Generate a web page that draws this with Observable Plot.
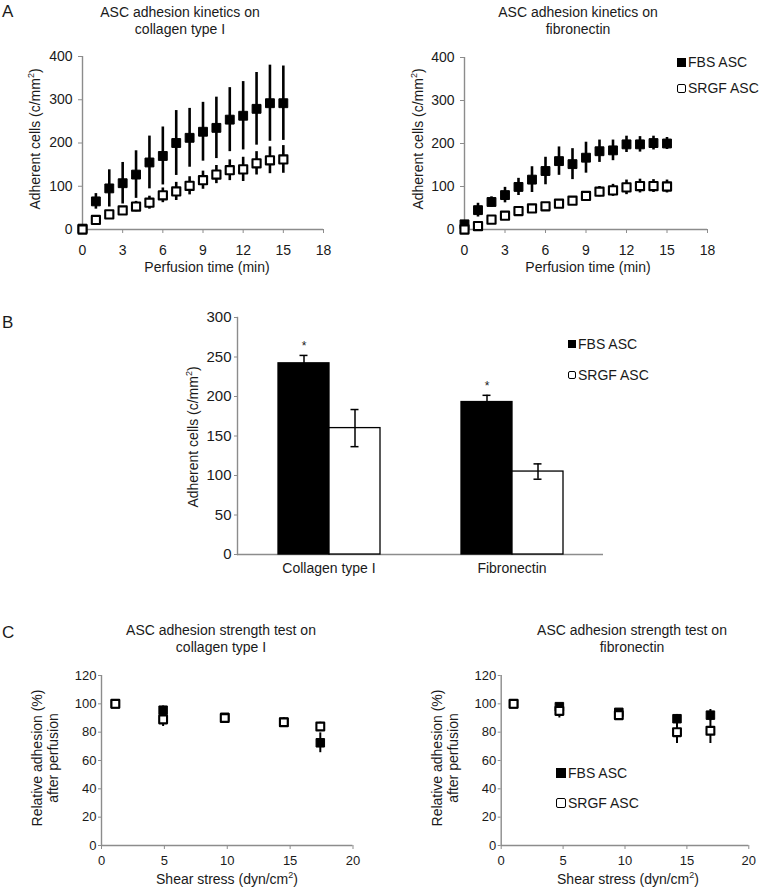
<!DOCTYPE html>
<html><head><meta charset="utf-8">
<script src="https://cdn.jsdelivr.net/npm/d3@7"></script>
<script src="https://cdn.jsdelivr.net/npm/@observablehq/plot@0.6"></script>
<style>
body{margin:0;background:#fff;}
#root{position:relative;width:760px;height:888px;font-family:"Liberation Sans",Arial,Helvetica,sans-serif;color:#1a1a1a;overflow:hidden;}
#root svg{position:absolute;}
.t{position:absolute;font-size:14px;line-height:17px;white-space:nowrap;text-align:center;transform:translate(-50%,-50%);}
.tx{position:absolute;font-size:14px;line-height:13px;white-space:nowrap;text-align:center;transform:translate(-50%,-50%);}
.ty{position:absolute;font-size:14px;line-height:16px;white-space:nowrap;text-align:center;transform:translate(-50%,-50%) rotate(-90deg);}
.letter{position:absolute;font-size:17px;line-height:17px;}
.leg{position:absolute;font-size:14px;line-height:17px;display:flex;align-items:center;white-space:nowrap;}
.sw{display:inline-block;box-sizing:border-box;border:1.6px solid #000;margin-right:2px;}
</style></head><body><div id="root"></div>
<script>
// ---------- DATA ----------
const minutes = [0,1,2,3,4,5,6,7,8,9,10,11,12,13,14,15];
// Panel A, collagen type I
const collFBS     = [2,65,95,107,127,155,170,200,212,226,235,254,263,279,292,292];
const collFBSErr  = [3,18,43,48,55,61,67,75,68,68,71,74,79,84,88,86];
const collSRGF    = [0,22,35,44,53,62,79,88,101,114,127,137,139,153,160,162];
const collSRGFErr = [2,5,6,8,12,15,17,21,21,21,21,24,28,27,31,32];
// Panel A, fibronectin
const fibFBS      = [12,45,64,80,99,116,136,159,152,167,182,184,198,198,201,200];
const fibFBSErr   = [3,16,12,18,20,30,32,33,36,36,26,24,19,18,16,14];
const fibSRGF     = [0,8,23,32,43,49,54,60,67,78,88,91,98,101,101,100];
const fibSRGFErr  = [1,3,4,5,5,5,5,6,8,10,12,14,17,16,15,15];
const kinXTicks = [0,3,6,9,12,15,18];
const kinYTicks = [0,100,200,300,400];
// Panel B
const substrates = ["Collagen type I","Fibronectin"];
const groups = ["FBS ASC","SRGF ASC"];
const barFBS = [242,193];
const barFBSErr = [10,8.5];
const barSRGF = [160,105];
const barSRGFErr = [23.5,9.7];
const barYTicks = [0,50,100,150,200,250,300];
// Panel C, collagen type I
const shearColl = [1.1,4.9,9.8,14.5,17.4];
const strCollFBS = [100,95.5,90.5,87,72.5];
const strCollFBSErr = [1,3,2,3,7];
const strCollSRGF = [100,89,90,87,84];
const strCollSRGFErr = [1,5,2,3,3];
// Panel C, fibronectin
const shearFib = [1.0,4.7,9.5,14.2,16.9];
const strFibFBS = [100,98,94,89.5,92];
const strFibFBSErr = [1,2,2,3,4];
const strFibSRGF = [100,95,92,80,81];
const strFibSRGFErr = [1,5,2,8,9];
const strXTicks = [0,5,10,15,20];
const strYTicks = [0,20,40,60,80,100,120];

// ---------- HELPERS ----------
const root = document.getElementById("root");
const AX = "#8c8c8c";
function place(svg, left, top){ svg.style.left = left+"px"; svg.style.top = top+"px"; root.appendChild(svg); }
function div(cls, html, x, y, extra){ const d=document.createElement("div"); d.className=cls; d.innerHTML=html; d.style.left=x+"px"; d.style.top=y+"px"; if(extra) Object.assign(d.style, extra); root.appendChild(d); return d; }
function legend(x, yc, filled, label, size){
  const d = div("leg", "", x, yc-8.5);
  const s = document.createElement("span"); s.className="sw";
  s.style.width=size+"px"; s.style.height=size+"px";
  s.style.background = filled ? "#000" : "#fff";
  if(!filled) s.style.borderRadius="2px";
  d.appendChild(s);
  d.appendChild(document.createTextNode(label));
}
function rows(xs, m, e){ return xs.map((x,i)=>({x, m:m[i], lo:m[i]-e[i], hi:m[i]+e[i]})); }
const SUP = "<sup style='font-size:9px;vertical-align:6px;line-height:0'>2</sup>";

function scatter(o){
  const fbs = rows(o.xs, o.fbs, o.fbsErr), srgf = rows(o.xs, o.srgf, o.srgfErr);
  return Plot.plot({
    width:o.width, height:o.height,
    marginLeft:o.ml, marginRight:o.mr, marginTop:o.mt, marginBottom:o.mb,
    style:{fontFamily:'"Liberation Sans",Arial,sans-serif', fontSize:o.fs+"px", color:"#1a1a1a", background:"transparent"},
    x:{domain:o.xDomain, axis:null},
    y:{domain:o.yDomain, axis:null},
    marks:[
      Plot.ruleY([o.yDomain[0]], {stroke:AX, strokeWidth:1.4}),
      Plot.ruleX([o.xDomain[0]], {stroke:AX, strokeWidth:1.4}),
      Plot.axisX({ticks:o.xTicks, tickSize:4, tickPadding:o.xpad, stroke:AX, fill:"#1a1a1a", label:null}),
      Plot.axisY({ticks:o.yTicks, tickSize:o.yts, tickPadding:o.ypad, stroke:AX, fill:"#1a1a1a", label:null}),
      Plot.ruleX(fbs, {x:"x", y1:"lo", y2:"hi", stroke:"#000", strokeWidth:o.ew}),
      Plot.dot(fbs, {x:"x", y:"m", symbol:"square", r:o.r, fill:"#000", stroke:"#000", strokeWidth:1}),
      Plot.ruleX(srgf, {x:"x", y1:"lo", y2:"hi", stroke:"#000", strokeWidth:o.ew}),
      Plot.dot(srgf, {x:"x", y:"m", symbol:"square", r:o.r*0.92, fill:"#fff", stroke:"#000", strokeWidth:2.1, strokeLinejoin:"round"})
    ]
  });
}

// ---------- PANEL A ----------
div("letter","A",2,3);
div("t","ASC adhesion kinetics on<br>collagen type I",180,20.5);
div("t","ASC adhesion kinetics on<br>fibronectin",578,20.5);
place(scatter({width:380,height:280,ml:82,mr:57,mt:56,mb:51,fs:14,xpad:12,yts:4,ypad:6,ew:2.6,r:5,
  xs:minutes,fbs:collFBS,fbsErr:collFBSErr,srgf:collSRGF,srgfErr:collSRGFErr,
  xDomain:[0,18],yDomain:[0,400],xTicks:kinXTicks,yTicks:kinYTicks}),0,0);
place(scatter({width:380,height:280,ml:84,mr:53,mt:57,mb:51,fs:14,xpad:12,yts:4,ypad:6,ew:2.6,r:5,
  xs:minutes,fbs:fibFBS,fbsErr:fibFBSErr,srgf:fibSRGF,srgfErr:fibSRGFErr,
  xDomain:[0,18],yDomain:[0,400],xTicks:kinXTicks,yTicks:kinYTicks}),380,0);
div("tx","Perfusion time (min)",207,267);
div("tx","Perfusion time (min)",588,267);
div("ty","Adherent cells (c/mm"+SUP+")",35,139);
div("ty","Adherent cells (c/mm"+SUP+")",418,139);
legend(677,62,true,"FBS ASC",9);
legend(677,88,false,"SRGF ASC",9);

// ---------- PANEL B ----------
div("letter","B",2,314);
const barData = substrates.flatMap((s,i)=>[
  {sub:s, grp:groups[0], m:barFBS[i], lo:barFBS[i]-barFBSErr[i], hi:barFBS[i]+barFBSErr[i]},
  {sub:s, grp:groups[1], m:barSRGF[i], lo:barSRGF[i]-barSRGFErr[i], hi:barSRGF[i]+barSRGFErr[i]}
]);
const fbsBars = barData.filter(d=>d.grp===groups[0]);
const srgfBars = barData.filter(d=>d.grp===groups[1]);
const plotB = Plot.plot({
  width:760, height:300, marginLeft:236, marginRight:157, marginTop:27, marginBottom:36,
  style:{fontFamily:'"Liberation Sans",Arial,sans-serif', fontSize:"14px", color:"#1a1a1a", background:"transparent"},
  fx:{domain:substrates, padding:0, label:null, axis:null},
  x:{domain:groups, paddingInner:0, paddingOuter:0.764, axis:null},
  y:{domain:[0,300], axis:null},
  marks:[
    Plot.frame({anchor:"left", facet:"super", stroke:AX, strokeWidth:1.4}),
    Plot.ruleY([0], {stroke:AX, strokeWidth:1.4}),
    Plot.axisY({ticks:barYTicks, tickSize:3, tickPadding:3, stroke:AX, fill:"#1a1a1a", label:null, fontSize:15}),
    Plot.axisFx({anchor:"bottom", tickSize:0, tickPadding:9, label:null, fill:"#1a1a1a"}),
    Plot.barY(fbsBars, {fx:"sub", x:"grp", y:"m", fill:"#000", stroke:"#000", strokeWidth:1.3}),
    Plot.barY(srgfBars, {fx:"sub", x:"grp", y:"m", fill:"#fff", stroke:"#000", strokeWidth:1.3}),
    Plot.ruleX(barData, {fx:"sub", x:"grp", y1:"lo", y2:"hi", stroke:"#000", strokeWidth:1.5}),
    Plot.tickY(barData, {fx:"sub", x:"grp", y:"lo", stroke:"#000", strokeWidth:1.5, insetLeft:21.5, insetRight:21.5}),
    Plot.tickY(barData, {fx:"sub", x:"grp", y:"hi", stroke:"#000", strokeWidth:1.5, insetLeft:21.5, insetRight:21.5}),
    Plot.text(fbsBars, {fx:"sub", x:"grp", y:"hi", text:()=>"*", dy:-9, fontSize:12, fill:"#1a1a1a"})
  ]
});
place(plotB,0,290);
div("ty","Adherent cells (c/mm"+SUP+")",193,437);
legend(568,344,true,"FBS ASC",8);
legend(568,375,false,"SRGF ASC",8);

// ---------- PANEL C ----------
div("letter","C",2,624);
div("t","ASC adhesion strength test on<br>collagen type I",221,639);
div("t","ASC adhesion strength test on<br>fibronectin",632,639);
place(scatter({width:380,height:288,ml:101,mr:27.5,mt:75,mb:43,fs:13,xpad:6,yts:3,ypad:2,ew:2,r:4.8,
  xs:shearColl,fbs:strCollFBS,fbsErr:strCollFBSErr,srgf:strCollSRGF,srgfErr:strCollSRGFErr,
  xDomain:[0,20],yDomain:[0,120],xTicks:strXTicks,yTicks:strYTicks}),0,600);
place(scatter({width:380,height:288,ml:120.7,mr:11.7,mt:75,mb:43,fs:13,xpad:6,yts:3,ypad:2,ew:2,r:4.8,
  xs:shearFib,fbs:strFibFBS,fbsErr:strFibFBSErr,srgf:strFibSRGF,srgfErr:strFibSRGFErr,
  xDomain:[0,20],yDomain:[0,120],xTicks:strXTicks,yTicks:strYTicks}),380,600);
div("tx","Shear stress (dyn/cm"+SUP+")",227,879);
div("tx","Shear stress (dyn/cm"+SUP+")",628,879);
div("ty","Relative adhesion (%)<br>after perfusion",45,758);
div("ty","Relative adhesion (%)<br>after perfusion",445,758);
legend(556,773,true,"FBS ASC",10);
legend(556,803,false,"SRGF ASC",10);
</script>
</body></html>
